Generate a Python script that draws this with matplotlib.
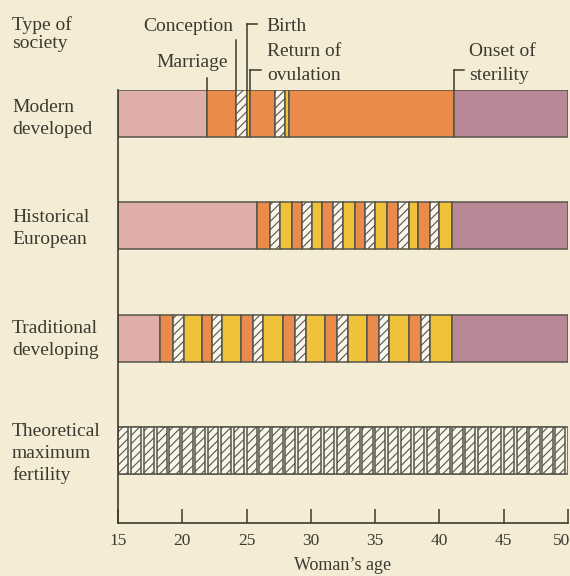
import matplotlib
matplotlib.use('Agg')
from matplotlib import pyplot as plt
from matplotlib import transforms
import numpy as np

# ages (years) where each phase of a woman's reproductive life changes
modern_edges = [15, 21.9, 24.2, 25.0, 25.3, 27.2, 28.0, 28.3, 41.1, 50]
modern_kinds = ['single', 'wait', 'preg', 'amen', 'wait', 'preg', 'amen', 'wait', 'sterile']

historical_edges = [15, 25.8, 26.8, 27.6, 28.5, 29.3, 30.1, 30.9, 31.7, 32.5, 33.4,
                    34.2, 35.0, 35.9, 36.8, 37.6, 38.3, 39.3, 40.0, 41.0, 50]
historical_kinds = ['single',
                    'wait', 'preg', 'amen', 'wait', 'preg', 'amen',
                    'wait', 'preg', 'amen', 'wait', 'preg', 'amen',
                    'wait', 'preg', 'amen', 'wait', 'preg', 'amen',
                    'sterile']

traditional_edges = [15, 18.3, 19.3, 20.1, 21.5, 22.3, 23.1, 24.6, 25.5, 26.3, 27.8, 28.8,
                     29.6, 31.1, 32.0, 32.9, 34.4, 35.3, 36.1, 37.6, 38.6, 39.3, 41.0, 50]
traditional_kinds = ['single',
                     'wait', 'preg', 'amen', 'wait', 'preg', 'amen',
                     'wait', 'preg', 'amen', 'wait', 'preg', 'amen',
                     'wait', 'preg', 'amen', 'wait', 'preg', 'amen',
                     'wait', 'preg', 'amen',
                     'sterile']

# theoretical maximum: one pregnancy after another from 15 to 50
theory_conceptions = [15, 16, 17, 18, 19, 20, 21, 22, 23, 24, 25, 26, 27, 28, 29, 30, 31, 32,
                      33, 34, 35, 36, 37, 38, 39, 40, 41, 42, 43, 44, 45, 46, 47, 48, 49]
theory_births = [15.8, 16.8, 17.8, 18.8, 19.8, 20.8, 21.8, 22.8, 23.8, 24.8, 25.8, 26.8,
                 27.8, 28.8, 29.8, 30.8, 31.8, 32.8, 33.8, 34.8, 35.8, 36.8, 37.8, 38.8,
                 39.8, 40.8, 41.8, 42.8, 43.8, 44.8, 45.8, 46.8, 47.8, 48.8, 49.8]

# events marked along the top (taken from the modern row)
marriage_age = 21.9
conception_age = 24.2
birth_age = 25.0
ovulation_age = 25.3
sterility_age = 41.1

row_labels = ['Modern\ndeveloped', 'Historical\nEuropean', 'Traditional\ndeveloping',
              'Theoretical\nmaximum\nfertility']
age_ticks = [15, 20, 25, 30, 35, 40, 45, 50]

bg = '#f4ecd5'
ink = '#3c3a30'
edge = '#55554a'
colours = {'single': '#e0aea8', 'wait': '#ea8b4c', 'preg': '#faf6ec',
           'amen': '#f0c23a', 'sterile': '#b98896'}

plt.rcParams['font.family'] = ['Liberation Serif', 'DejaVu Serif']
plt.rcParams['hatch.linewidth'] = 0.8
plt.rcParams['hatch.color'] = edge

W, H = 570, 576
fig = plt.figure(figsize=(W / 100, H / 100), dpi=100, facecolor=bg)
ax = fig.add_axes([118 / W, 1 - 523 / H, 450 / W, 433 / H])
ax.set_facecolor(bg)

bar_h = 0.42


def draw_row(y, edges, kinds):
    edges = np.array(edges)
    for x0, x1, k in zip(edges[:-1], edges[1:], kinds):
        ax.barh(y, x1 - x0, left=x0, height=bar_h, color=colours[k],
                edgecolor=edge, linewidth=1.1, hatch='////' if k == 'preg' else None)


draw_row(0, modern_edges, modern_kinds)
draw_row(1, historical_edges, historical_kinds)
draw_row(2, traditional_edges, traditional_kinds)

# theoretical row: pale bar with back-to-back pregnancies
ax.barh(3, 50 - 15, left=15, height=bar_h, color='#f7f3e6', edgecolor=edge, linewidth=1.1)
starts = np.array(theory_conceptions)
ends = np.array(theory_births)
ax.barh(np.full(len(starts), 3), ends - starts, left=starts, height=bar_h,
        color=colours['preg'], edgecolor=edge, linewidth=1.1, hatch='////')

ax.set_xlim(15, 50)
ax.set_ylim(3.646, -0.209)
ax.set_yticks([])
ax.set_xticks(age_ticks)
ax.tick_params(axis='x', direction='in', length=10, width=1.1, color=ink,
               labelsize=12.5, labelcolor=ink, pad=7)
for s in ['top', 'right']:
    ax.spines[s].set_visible(False)
for s in ['left', 'bottom']:
    ax.spines[s].set_color(ink)
    ax.spines[s].set_linewidth(1.2)
ax.set_xlabel('Woman\u2019s age', fontsize=13, color=ink, labelpad=6)

# pull the last tick label in so it stays on the page
last = ax.get_xticklabels()[-1]
last.set_transform(last.get_transform() + transforms.ScaledTranslation(-6 / 100, 0, fig.dpi_scale_trans))


def px(x, y):
    return x / W, 1 - y / H


txt = dict(fontsize=14, color=ink, va='baseline')

fig.text(*px(12, 30), 'Type of', **txt)
fig.text(*px(12, 48), 'society', **txt)

label_y = [112, 222, 333, 436]
for lab, y0 in zip(row_labels, label_y):
    for i, line in enumerate(lab.split('\n')):
        fig.text(*px(12, y0 + 22 * i), line, **txt)

# event markers above the first bar
tr = transforms.blended_transform_factory(ax.transData, fig.transFigure)
top = 1 - 90 / H


def vline(x, y_px):
    ax.plot([x, x], [1 - y_px / H, top], color=ink, lw=1.1, transform=tr, clip_on=False)


def corner(x, y_px):
    vline(x, y_px)
    ax.plot([x, x + 0.8], [1 - y_px / H] * 2, color=ink, lw=1.1, transform=tr, clip_on=False)


vline(marriage_age, 78)
vline(conception_age, 40)
corner(birth_age, 24)
corner(ovulation_age, 70)
corner(sterility_age, 70)

fig.text(*px(233, 31), 'Conception', ha='right', **txt)
fig.text(*px(266, 31), 'Birth', **txt)
fig.text(*px(228, 67), 'Marriage', ha='right', **txt)
fig.text(*px(267, 56), 'Return of', **txt)
fig.text(*px(267, 80), 'ovulation', **txt)
fig.text(*px(469, 56), 'Onset of', **txt)
fig.text(*px(469, 80), 'sterility', **txt)

fig.savefig('out.png', dpi=100, facecolor=bg)
